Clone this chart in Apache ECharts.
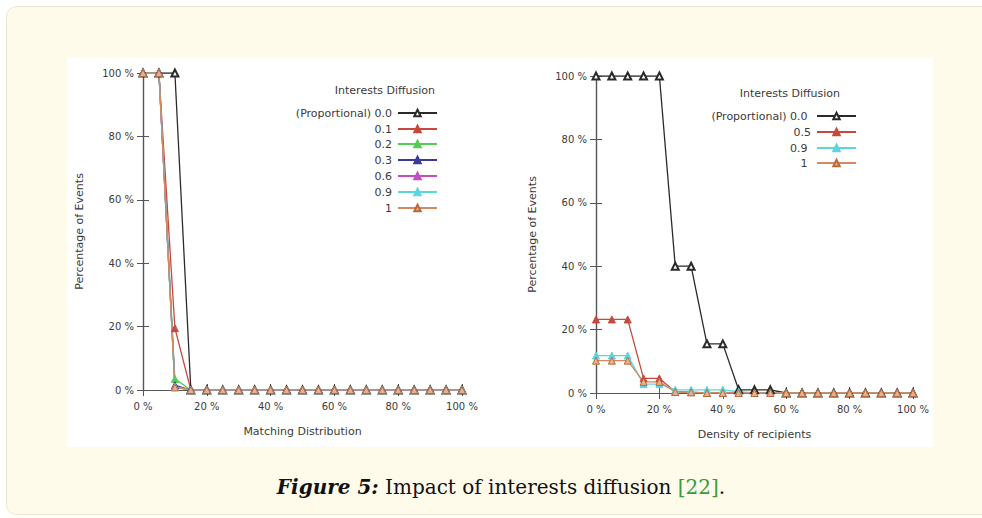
<!DOCTYPE html>
<html>
<head>
<meta charset="utf-8">
<script src="https://cdn.jsdelivr.net/npm/echarts@6/dist/echarts.min.js"></script>
<style>
html,body{margin:0;padding:0;background:#ffffff;}
#c{width:982px;height:518px;}
</style>
</head>
<body>
<div id="c"></div>
<script>
// ---- data ----
var xValues = [0,5,10,15,20,25,30,35,40,45,50,55,60,65,70,75,80,85,90,95,100];

var leftNames = ['(Proportional) 0.0','0.1','0.2','0.3','0.6','0.9','1'];
var left_p00 = [100,100,100,0,0,0,0,0,0,0,0,0,0,0,0,0,0,0,0,0,0];
var left_p01 = [100,100,19.5,0,0,0,0,0,0,0,0,0,0,0,0,0,0,0,0,0,0];
var left_p02 = [100,100,3.5,0,0,0,0,0,0,0,0,0,0,0,0,0,0,0,0,0,0];
var left_p03 = [100,100,1.5,0,0,0,0,0,0,0,0,0,0,0,0,0,0,0,0,0,0];
var left_p06 = [100,100,1,0,0,0,0,0,0,0,0,0,0,0,0,0,0,0,0,0,0];
var left_p09 = [100,100,1,0,0,0,0,0,0,0,0,0,0,0,0,0,0,0,0,0,0];
var left_p1  = [100,100,0.8,0,0,0,0,0,0,0,0,0,0,0,0,0,0,0,0,0,0];

var rightNames = ['(Proportional) 0.0 ','0.5','0.9 ','1 '];
var right_p00 = [100,100,100,100,100,40,40,15.5,15.5,1,1,1,0,0,0,0,0,0,0,0,0];
var right_p05 = [23.2,23.2,23.2,4.6,4.6,0.4,0.3,0,0,0,0,0,0,0,0,0,0,0,0,0,0];
var right_p09 = [11.8,11.8,11.8,2.8,2.8,1,1,1,1,0.4,0,0,0,0,0,0,0,0,0,0,0];
var right_p1  = [10.2,10.2,10.2,3.5,3.5,0.3,0.2,0,0,0,0,0,0,0,0,0,0,0,0,0,0];

var xTickLabel = '{value} %';
var leftXName = 'Matching Distribution';
var rightXName = 'Density of recipients';
var yName = 'Percentage of Events';
var legendTitle = 'Interests Diffusion';

// ---- styles ----
var C = {
  black:'#2a2a2a', red:'#c8483e', green:'#55cc55', blue:'#3a3a98',
  magenta:'#c24ec2', cyan:'#5cd6de', orange:'#d48a5c'
};
var leftStyles = [
  {c:C.black, sym:'emptyTriangle', fill:C.black},
  {c:C.red, sym:'triangle', fill:C.red},
  {c:C.green, sym:'triangle', fill:C.green},
  {c:C.blue, sym:'triangle', fill:C.blue},
  {c:C.magenta, sym:'triangle', fill:C.magenta},
  {c:C.cyan, sym:'triangle', fill:C.cyan},
  {c:C.orange, sym:'triangle', fill:'#e8b08c', border:'#b86a3c'}
];
var rightStyles = [leftStyles[0], leftStyles[1], leftStyles[5], leftStyles[6]];
var leftData = [left_p00,left_p01,left_p02,left_p03,left_p06,left_p09,left_p1];
var rightData = [right_p00,right_p05,right_p09,right_p1];

var FONT = 'DejaVu Sans';
var axisColor = '#555555';
var textColor = '#3a3a3a';

function pairs(arr){ return xValues.map(function(x,i){ return [x, arr[i]]; }); }

function mkSeries(name, arr, st, xi, yi){
  return {
    type:'line', name:name, data:pairs(arr),
    xAxisIndex:xi, yAxisIndex:yi,
    symbol: st.sym, symbolSize:7, showAllSymbol:true,
    lineStyle:{color:st.c, width:1.3},
    itemStyle:{color: st.fill, borderColor: st.border || st.c, borderWidth:1},
    animation:false, z:3
  };
}

var grids = [
  {left:143, top:73, width:319, height:317},
  {left:596, top:76, width:317, height:317}
];

var xAxes = [], yAxes = [];
[0,1].forEach(function(g){
  xAxes.push({
    type:'value', gridIndex:g, min:0, max:100, interval:20, position:'bottom',
    name: g===0 ? leftXName : rightXName, nameLocation:'middle', nameGap:36,
    nameTextStyle:{fontFamily:FONT, fontSize:11, color:textColor},
    axisLine:{show:true, lineStyle:{color:axisColor, width:1.2}},
    axisTick:{show:true, inside:true, length:6, lineStyle:{color:axisColor}},
    axisLabel:{formatter:xTickLabel, fontFamily:FONT, fontSize:10, color:textColor, margin:11},
    splitLine:{show:false}
  });
  xAxes.push({
    type:'value', gridIndex:g, min:0, max:100, interval:20, position:'top',
    axisLine:{show:true, lineStyle:{color:axisColor, width:1.2}},
    axisTick:{show:true, inside:true, length:6, lineStyle:{color:axisColor}},
    axisLabel:{show:false}, splitLine:{show:false}
  });
  yAxes.push({
    type:'value', gridIndex:g, min:0, max:100, interval:20, position:'left',
    name: yName, nameLocation:'middle', nameGap:58, nameRotate:90,
    nameTextStyle:{fontFamily:FONT, fontSize:11, color:textColor},
    axisLine:{show:true, lineStyle:{color:axisColor, width:1.2}},
    axisTick:{show:true, inside:true, length:6, lineStyle:{color:axisColor}},
    axisLabel:{formatter:xTickLabel, fontFamily:FONT, fontSize:10, color:textColor, margin:9},
    splitLine:{show:false}
  });
  yAxes.push({
    type:'value', gridIndex:g, min:0, max:100, interval:20, position:'right',
    axisLine:{show:true, lineStyle:{color:axisColor, width:1.2}},
    axisTick:{show:true, inside:true, length:6, lineStyle:{color:axisColor}},
    axisLabel:{show:false}, splitLine:{show:false}
  });
});

var series = [];
leftNames.forEach(function(n,i){ series.push(mkSeries(n, leftData[i], leftStyles[i], 0, 0)); });
rightNames.forEach(function(n,i){ series.push(mkSeries(n, rightData[i], rightStyles[i], 2, 2)); });

function mkLegend(name, right, centerY){
  return {
    data:[name], orient:'horizontal', align:'right', right:right, top:centerY-7,
    itemWidth:39, itemHeight:8, padding:0, selectedMode:false,
    textStyle:{fontFamily:FONT, fontSize:11, color:textColor, lineHeight:14, padding:[0,1,0,0]}
  };
}
var legends = [];
var leftLegY = [113,129,144,160,176,192,208];
var rightLegY = [116,132,148,163];
leftNames.forEach(function(n,i){ legends.push(mkLegend(n, 544, leftLegY[i])); });
rightNames.forEach(function(n,i){ legends.push(mkLegend(n, 125, rightLegY[i])); });

var option = {
  animation:false,
  grid:grids, xAxis:xAxes, yAxis:yAxes, series:series, legend:legends,
  graphic:[
    {type:'rect', z:-10, silent:true, shape:{x:6.5, y:6.5, width:990, height:508, r:10},
     style:{fill:'#fffbea', stroke:'#ebe6d2', lineWidth:1}},
    {type:'rect', z:-9, silent:true, shape:{x:67, y:58, width:866, height:389},
     style:{fill:'#ffffff'}},
    {type:'text', z:5, x:435, y:90, silent:true,
     style:{text:legendTitle, fontFamily:FONT, fontSize:11, fill:textColor, align:'right', verticalAlign:'middle'}},
    {type:'text', z:5, x:840, y:93, silent:true,
     style:{text:legendTitle, fontFamily:FONT, fontSize:11, fill:textColor, align:'right', verticalAlign:'middle'}},
    {type:'text', z:5, x:501, y:487, silent:true,
     style:{
       text:'{b|Figure 5:}{n| Impact of interests diffusion }{g|[22]}{n|.}',
       align:'center', verticalAlign:'middle',
       rich:{
         b:{fontFamily:'DejaVu Serif', fontSize:20, fontWeight:'bold', fontStyle:'italic', fill:'#111111'},
         n:{fontFamily:'DejaVu Serif', fontSize:20, fill:'#111111'},
         g:{fontFamily:'DejaVu Serif', fontSize:20, fill:'#3a9a3a'}
       }
     }}
  ]
};

var chart = echarts.init(document.getElementById('c'), null, {renderer:'svg', width:982, height:518});
chart.setOption(option);
</script>
</body>
</html>
